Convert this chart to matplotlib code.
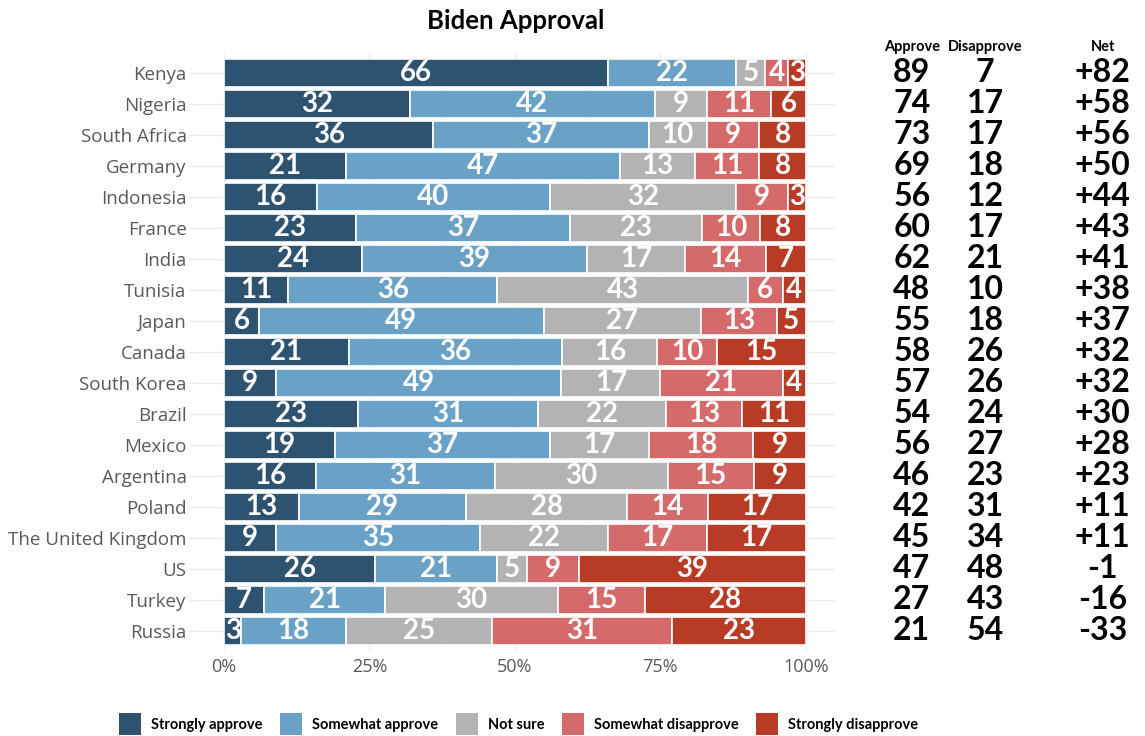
import matplotlib.pyplot as plt
import numpy as np
from matplotlib.patches import Patch

countries = ['Kenya', 'Nigeria', 'South Africa', 'Germany', 'Indonesia', 'France', 'India',
             'Tunisia', 'Japan', 'Canada', 'South Korea', 'Brazil', 'Mexico', 'Argentina',
             'Poland', 'The United Kingdom', 'US', 'Turkey', 'Russia']
strongly_approve = [66, 32, 36, 21, 16, 23, 24, 11, 6, 21, 9, 23, 19, 16, 13, 9, 26, 7, 3]
somewhat_approve = [22, 42, 37, 47, 40, 37, 39, 36, 49, 36, 49, 31, 37, 31, 29, 35, 21, 21, 18]
not_sure = [5, 9, 10, 13, 32, 23, 17, 43, 27, 16, 17, 22, 17, 30, 28, 22, 5, 30, 25]
somewhat_disapprove = [4, 11, 9, 11, 9, 10, 14, 6, 13, 10, 21, 13, 18, 15, 14, 17, 9, 15, 31]
strongly_disapprove = [3, 6, 8, 8, 3, 8, 7, 4, 5, 15, 4, 11, 9, 9, 17, 17, 39, 28, 23]
approve = [89, 74, 73, 69, 56, 60, 62, 48, 55, 58, 57, 54, 56, 46, 42, 45, 47, 27, 21]
disapprove = [7, 17, 17, 18, 12, 17, 21, 10, 18, 26, 26, 24, 27, 23, 31, 34, 48, 43, 54]
net = ['+82', '+58', '+56', '+50', '+44', '+43', '+41', '+38', '+37', '+32', '+32', '+30',
       '+28', '+23', '+11', '+11', '-1', '-16', '-33']

labels = ['Strongly approve', 'Somewhat approve', 'Not sure', 'Somewhat disapprove', 'Strongly disapprove']
colors = ['#2d5370', '#6aa2c7', '#b3b3b3', '#d56a6a', '#b83b26']

series = np.array([strongly_approve, somewhat_approve, not_sure, somewhat_disapprove, strongly_disapprove], dtype=float)
shares = series / series.sum(axis=0)

fig = plt.figure(figsize=(11.45, 7.36), dpi=100)
ax = fig.add_axes([0.1702, 0.1174, 0.559, 0.8087])

y = np.arange(len(countries))
left = np.zeros(len(countries))
for i in range(5):
    ax.barh(y, shares[i], left=left, height=0.92, color=colors[i], edgecolor='white', linewidth=1.2, zorder=2)
    for j in range(len(countries)):
        ax.text(left[j] + shares[i][j] / 2, y[j], str(int(series[i][j])), ha='center', va='center',
                color='white', fontsize=20, fontweight='bold', family='Lato', zorder=3)
    left += shares[i]

ax.set_xlim(-0.05, 1.05)
ax.set_ylim(len(countries) - 0.4, -0.6)
ax.set_yticks(y)
ax.set_yticklabels(countries, fontsize=13.5, color='#595959', family='Open Sans')
ax.set_xticks([0, 0.25, 0.5, 0.75, 1])
ax.set_xticklabels(['0%', '25%', '50%', '75%', '100%'], fontsize=13, color='#595959', family='Open Sans')
ax.set_xticks([0.125, 0.375, 0.625, 0.875], minor=True)
ax.tick_params(axis='x', which='both', length=0, pad=6)
ax.tick_params(axis='y', length=4, color='#e6e6e6', pad=2)
ax.grid(True, which='major', color='#ebebeb', linewidth=1, zorder=0)
ax.grid(True, which='minor', axis='x', color='#f2f2f2', linewidth=0.8, zorder=0)
for s in ax.spines.values():
    s.set_visible(False)

# right hand columns
for xp, head in [(1.182, 'Approve'), (1.308, 'Disapprove'), (1.51, 'Net')]:
    ax.text(xp, -0.85, head, ha='center', va='center', fontsize=10.5, fontweight='bold', family='Lato', clip_on=False)
for j in range(len(countries)):
    ax.text(1.182, y[j], str(approve[j]), ha='center', va='center', fontsize=23, fontweight='bold', family='Lato', clip_on=False)
    ax.text(1.308, y[j], str(disapprove[j]), ha='center', va='center', fontsize=23, fontweight='bold', family='Lato', clip_on=False)
    ax.text(1.51, y[j], net[j], ha='center', va='center', fontsize=23, fontweight='bold', family='Lato', clip_on=False)

fig.text(0.45, 0.972, 'Biden Approval', ha='center', va='center', fontsize=18.5, fontweight='bold', family='Lato')

handles = [Patch(facecolor=c, edgecolor='none') for c in colors]
fig.legend(handles, labels, loc='center', bbox_to_anchor=(0.453, 0.016), ncol=5, frameon=False,
           prop={'family': 'Lato', 'weight': 'bold', 'size': 10.5}, handlelength=1.5, handleheight=1.9,
           handletextpad=0.7, columnspacing=1.2)

plt.savefig('out.png', dpi=100)
